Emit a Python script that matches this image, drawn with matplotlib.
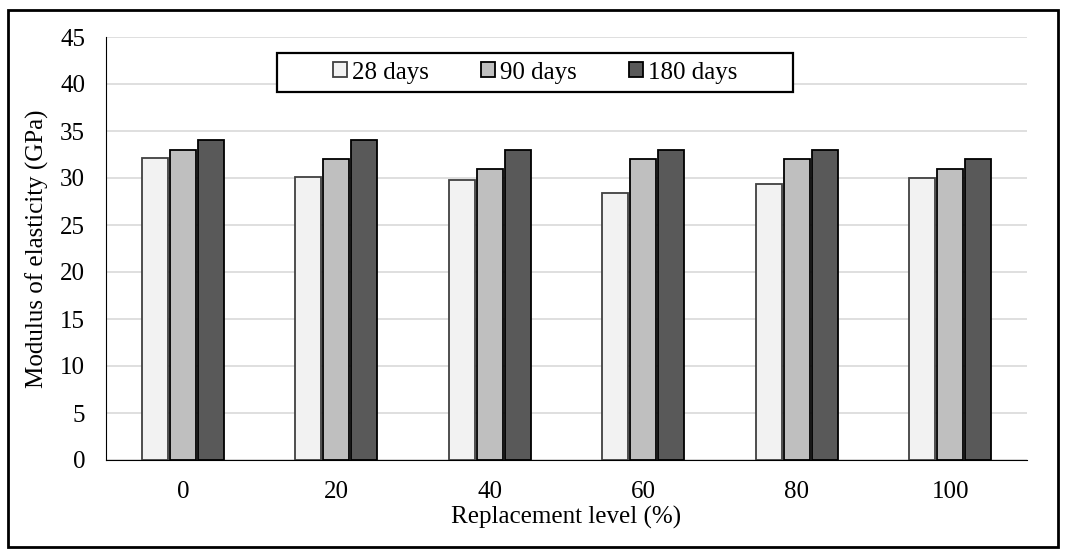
import numpy as np
import matplotlib.pyplot as plt
from matplotlib.patches import Rectangle

plt.rcParams['font.family'] = ['Liberation Serif', 'DejaVu Serif']

levels = ['0', '20', '40', '60', '80', '100']
days28 = [32.1, 30.1, 29.8, 28.4, 29.4, 30.0]
days90 = [33.0, 32.0, 31.0, 32.0, 32.0, 31.0]
days180 = [34.0, 34.0, 33.0, 33.0, 33.0, 32.0]
series_names = ['28 days', '90 days', '180 days']

fs = 18
fig = plt.figure(figsize=(10.68, 5.6), dpi=100)
ax = fig.add_axes([106/1068, 1 - 460/560, (1027-106)/1068, (460-37)/560])

x = np.arange(len(levels))
w = 0.17
off = 0.182
ax.bar(x - off, days28, w, color='#f2f2f2', edgecolor='#404040', linewidth=1.3, label=series_names[0], zorder=3)
ax.bar(x, days90, w, color='#bfbfbf', edgecolor='black', linewidth=1.3, label=series_names[1], zorder=3)
ax.bar(x + off, days180, w, color='#595959', edgecolor='black', linewidth=1.3, label=series_names[2], zorder=3)

ax.set_ylim(0, 45)
ax.set_yticks(range(0, 46, 5))
ax.set_xlim(-0.5, len(levels) - 0.5)
ax.set_xticks(x)
ax.set_xticklabels(levels)
ax.tick_params(axis='both', length=0, labelsize=fs)
ax.tick_params(axis='x', pad=15)
ax.tick_params(axis='y', pad=15)
ax.yaxis.grid(True, color='#d9d9d9', linewidth=1.2, zorder=0)
for s in ['top', 'right']:
    ax.spines[s].set_visible(False)
ax.spines['left'].set_color('black')
ax.spines['bottom'].set_color('black')

ax.set_xlabel('Replacement level (%)', fontsize=fs, labelpad=2)
ax.set_ylabel('Modulus of elasticity (GPa)', fontsize=fs, labelpad=8)

# legend box
ax.add_patch(Rectangle((171/921, 1 - 55/423), 516/921, 39/423, transform=ax.transAxes,
                       facecolor='white', edgecolor='black', linewidth=1.6, zorder=5))
leg = ax.legend(ncol=3, loc='center', bbox_to_anchor=((171 + 258)/921, 1 - 35.5/423),
                fontsize=fs, frameon=False, columnspacing=2.1,
                handlelength=0.55, handleheight=0.55, handletextpad=0.2, borderpad=0)
leg.set_zorder(6)

fig.patches.append(Rectangle((8/1068, 13/560), 1050/1068, 537/560, transform=fig.transFigure,
                             fill=False, edgecolor='black', linewidth=2))

fig.savefig('out.png', dpi=100)
